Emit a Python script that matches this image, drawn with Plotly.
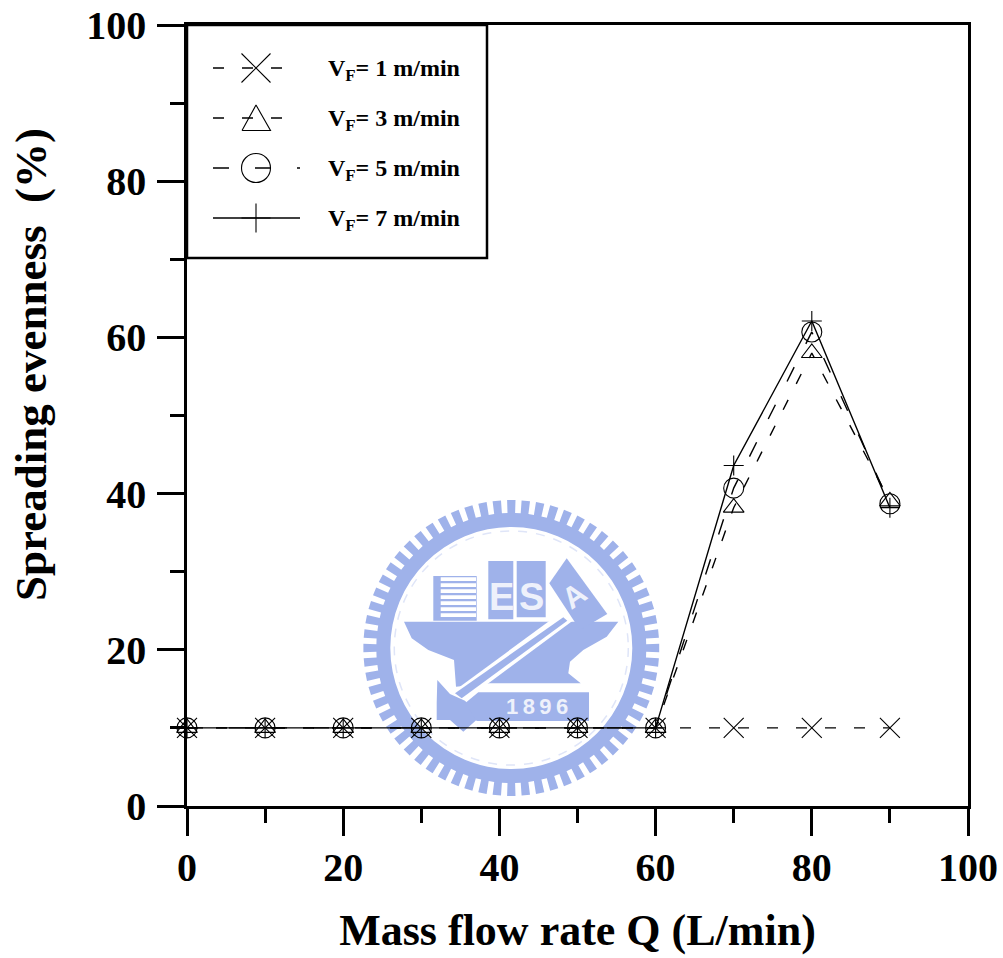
import math
import plotly.graph_objects as go

mass_flow = [0, 10, 20, 30, 40, 50, 60, 70, 80, 90]
vf1 = [10, 10, 10, 10, 10, 10, 10, 10, 10, 10]
vf3 = [10, 10, 10, 10, 10, 10, 10, 38.2, 58.0, 39.0]
vf5 = [10, 10, 10, 10, 10, 10, 10, 40.7, 60.7, 38.7]
vf7 = [10, 10, 10, 10, 10, 10, 10, 43.6, 62.1, 38.2]
series_names = ["V<sub>F</sub>= 1 m/min", "V<sub>F</sub>= 3 m/min", "V<sub>F</sub>= 5 m/min", "V<sub>F</sub>= 7 m/min"]
tick_vals = [0, 20, 40, 60, 80, 100]

FONT = "Liberation Serif"
INK = "#000000"
BLUE = "#9fb2ea"
PALE = "#eef1fb"

styles = [
    dict(symbol="x-thin-open", size=20, key=29, dash="11px,18px"),
    dict(symbol="triangle-up-open", size=18, key=None, dash="11px,18px"),
    dict(symbol="circle-open", size=20, key=29, dash="16px,26px"),
    dict(symbol="cross-thin-open", size=14.3, key=20.7, dash="solid"),
]

fig = go.Figure()
for name, vals, st in zip(series_names, [vf1, vf3, vf5, vf7], styles):
    fig.add_trace(go.Scatter(
        x=mass_flow, y=vals, mode="lines+markers", name=name, showlegend=False,
        cliponaxis=False,
        line=dict(color=INK, width=1.4, dash=st["dash"]),
        marker=dict(symbol=st["symbol"], size=st["size"], color=INK,
                    line=dict(color=INK, width=1.1)),
    ))

shapes = []
annotations = []

def rel_shape(**kw):
    kw.setdefault("xref", "x2")
    kw.setdefault("yref", "y2")
    kw.setdefault("layer", "below")
    shapes.append(kw)

def px_x(px):
    return (px - 187) / 781

def px_y(py):
    return (806 - py) / 781

# legend keys, on an overlay axis pair that counts in page pixels
legend_rows = [68, 118, 168, 218]
legend_ends = [283, 283, 300, 300]
for name, row, end, st in zip(series_names, legend_rows, legend_ends, styles):
    fig.add_trace(go.Scatter(
        x=[213, end], y=[row, row], xaxis="x2", yaxis="y2", mode="lines", showlegend=False,
        hoverinfo="skip", line=dict(color=INK, width=1.4, dash=st["dash"]),
    ))
    if st["key"] is not None:
        fig.add_trace(go.Scatter(
            x=[256], y=[row], xaxis="x2", yaxis="y2", mode="markers", showlegend=False,
            hoverinfo="skip",
            marker=dict(symbol=st["symbol"], size=st["key"], color=INK, line=dict(color=INK, width=1.1)),
        ))
    else:
        fig.add_trace(go.Scatter(
            x=[242, 270.5, 256, 242], y=[row + 12.5, row + 12.5, row - 13, row + 12.5],
            xaxis="x2", yaxis="y2", mode="lines", showlegend=False, hoverinfo="skip",
            line=dict(color=INK, width=1.1),
        ))
    annotations.append(dict(
        x=px_x(326), y=px_y(row + 2), xref="paper", yref="paper", text=name, showarrow=False,
        xanchor="left", yanchor="middle", font=dict(family=FONT, size=24, color=INK, weight="bold"),
    ))

# y axis title, placed off the plot centre as in the reference
annotations.append(dict(
    x=px_x(31), y=px_y(365), xref="paper", yref="paper", text="Spreading evenness  (%)", showarrow=False,
    textangle=-90, xanchor="center", yanchor="middle",
    font=dict(family=FONT, size=45, color=INK, weight="bold"),
))

# watermark seal, drawn behind the data
CX, CY = 511.3, 648.0
R_IN, R_BASE, R_TIP = 121, 135, 148
N_TEETH = 64

def zoom_pt(zx, zy):
    return 350 + zx / 3, 490 + zy / 3

def poly(points, fill):
    pts = [zoom_pt(*p) for p in points]
    path = "M " + " L ".join(f"{x:.1f},{y:.1f}" for x, y in pts) + " Z"
    rel_shape(type="path", path=path, fillcolor=fill, line=dict(width=0))

gear = []
for i in range(N_TEETH):
    a = 2 * math.pi * i / N_TEETH
    w = 2 * math.pi / N_TEETH
    for da, r in [(-0.29, R_BASE), (-0.29, R_TIP), (0.29, R_TIP), (0.29, R_BASE)]:
        gear.append((CX + r * math.cos(a + da * w), CY + r * math.sin(a + da * w)))
rel_shape(type="path", path="M " + " L ".join(f"{x:.1f},{y:.1f}" for x, y in gear) + " Z",
          fillcolor=BLUE, line=dict(width=0))
rel_shape(type="circle", x0=CX - R_IN, x1=CX + R_IN, y0=CY - R_IN, y1=CY + R_IN,
          fillcolor="#ffffff", line=dict(width=0))
rel_shape(type="circle", x0=CX - 117, x1=CX + 117, y0=CY - 117, y1=CY + 117,
          fillcolor="rgba(0,0,0,0)", line=dict(color="#dfe5f8", width=1.5, dash="dash"))

poly([(162, 395), (805, 395), (770, 440), (700, 480), (660, 515), (655, 550), (692, 580),
      (420, 580), (318, 590), (312, 510), (235, 480), (185, 445)], BLUE)
poly([(250, 258), (380, 258), (380, 392), (250, 392)], BLUE)
for zy in [262, 280, 298, 316, 334, 352, 370]:
    poly([(272, zy), (378, zy), (378, zy + 11), (272, zy + 11)], "#ffffff")
poly([(415, 213), (490, 213), (490, 388), (415, 388)], BLUE)
poly([(500, 213), (587, 213), (587, 382), (500, 382)], BLUE)
poly([(650, 205), (772, 372), (690, 420), (598, 280)], BLUE)
poly([(640, 362), (668, 392), (345, 632), (300, 612)], "#ffffff")
poly([(640, 382), (652, 392), (335, 625), (315, 610)], BLUE)
poly([(262, 570), (300, 612), (345, 632), (390, 680), (340, 725), (300, 690), (260, 690), (260, 640)], BLUE)
poly([(385, 607), (717, 607), (717, 693), (380, 693), (345, 640)], BLUE)

for ztext, zx, zy, size, angle in [("E", 453, 322, 38, 0), ("S", 543, 322, 38, 0),
                                   ("A", 672, 315, 30, -35), ("1\u20098\u20099\u20096", 560, 650, 22, 0)]:
    px, py = zoom_pt(zx, zy)
    annotations.append(dict(x=px_x(px), y=px_y(py), xref="paper", yref="paper", text=ztext,
                            showarrow=False, textangle=angle, xanchor="center", yanchor="middle",
                            font=dict(family="Liberation Sans Narrow, Liberation Sans", size=size,
                                      color=PALE, weight="bold")))

# legend box
rel_shape(type="rect", x0=187, x1=487, y0=25, y1=258, fillcolor="rgba(0,0,0,0)",
          line=dict(color=INK, width=2.5))

axis_common = dict(
    range=[0, 100], tickmode="array", tickvals=tick_vals, ticks="outside", ticklen=27, tickwidth=2.5,
    tickcolor=INK, showline=True, linecolor=INK, linewidth=2.5, mirror=True, showgrid=False,
    zeroline=False, automargin=False, ticklabeloverflow="allow",
    tickfont=dict(family=FONT, size=40, color=INK, weight="bold"),
    minor=dict(tickmode="array", tickvals=[10, 30, 50, 70, 90], ticks="outside", ticklen=14,
               tickwidth=2.5, tickcolor=INK, showgrid=False),
)

fig.update_layout(
    width=1003, height=958, autosize=False,
    margin=dict(l=187, r=35, t=25, b=152, pad=0),
    paper_bgcolor="#ffffff", plot_bgcolor="#ffffff", showlegend=False,
    xaxis=dict(**axis_common, ticklabelstandoff=-3,
               title=dict(text="Mass flow rate Q (L/min)", standoff=26,
                          font=dict(family=FONT, size=44, color=INK, weight="bold"))),
    yaxis=dict(**axis_common, ticklabelstandoff=3),
    xaxis2=dict(range=[187, 968], overlaying="x", visible=False, fixedrange=True),
    yaxis2=dict(range=[806, 25], overlaying="y", visible=False, fixedrange=True),
    shapes=shapes, annotations=annotations,
)

# page margin off so that the figure fills the window exactly
fig.write_html("out.html", config={"displayModeBar": False},
               post_script="document.body.style.margin='0';")
